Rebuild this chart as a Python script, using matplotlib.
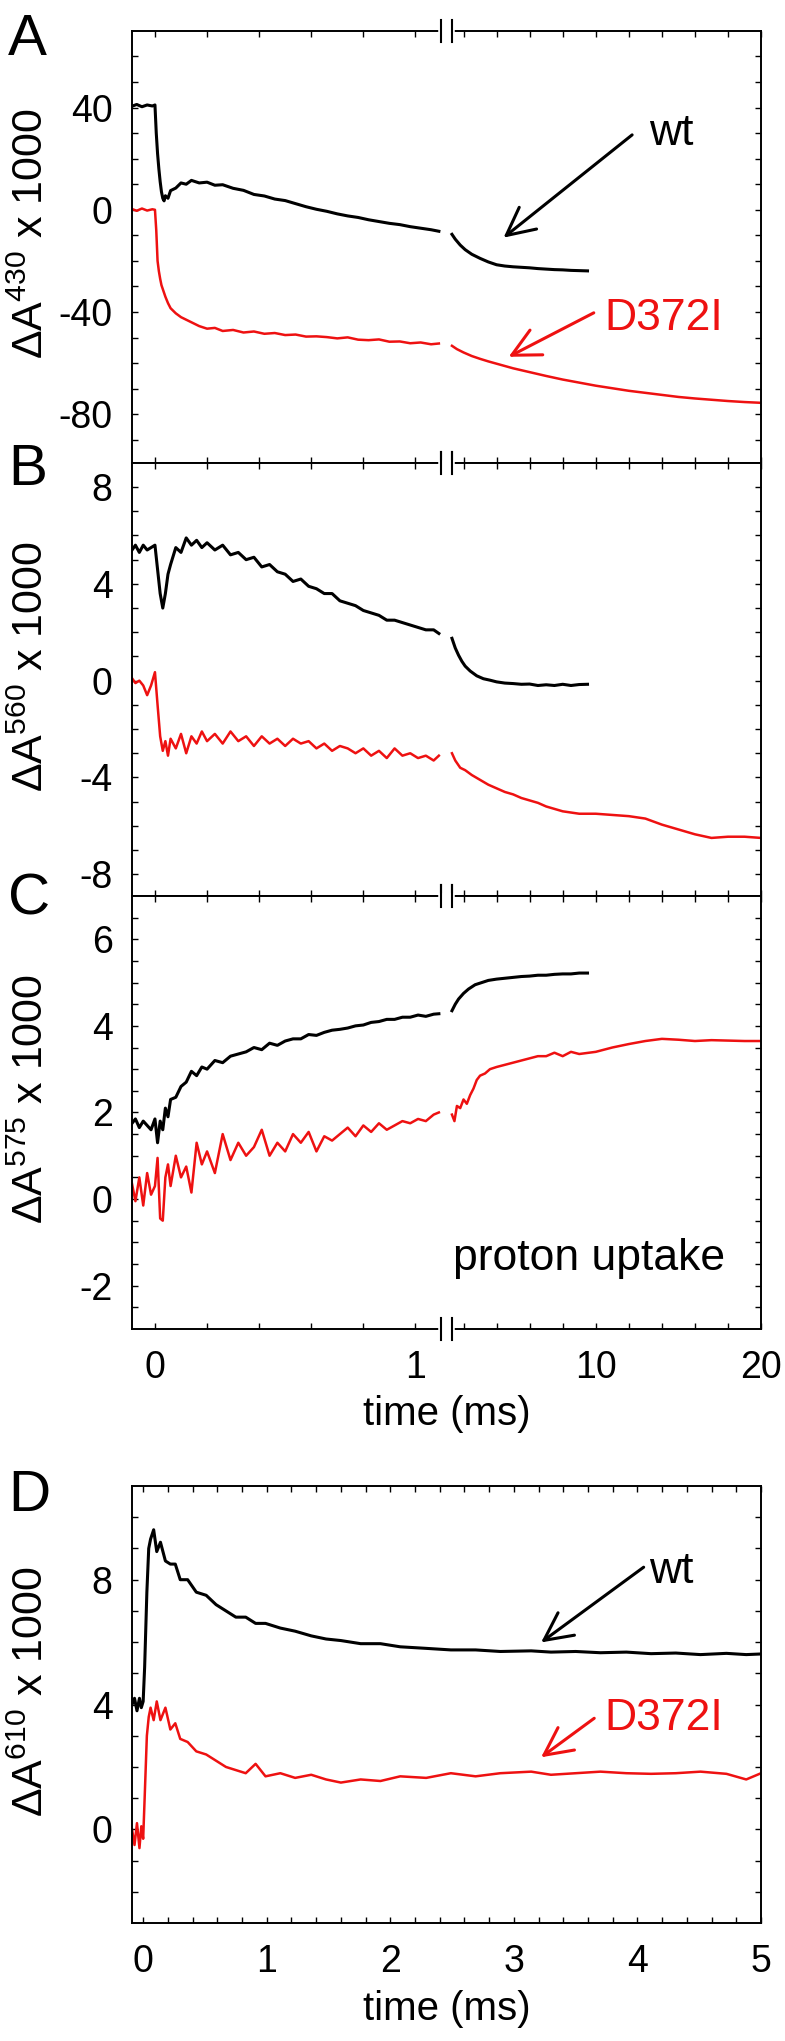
import numpy as np
import matplotlib
matplotlib.use('Agg')
import matplotlib.pyplot as plt
import matplotlib.transforms as mtransforms
from matplotlib.ticker import FixedLocator, NullFormatter, FixedFormatter

plt.rcParams['font.family'] = ['Liberation Sans', 'DejaVu Sans']
plt.rcParams['mathtext.fontset'] = 'custom'
plt.rcParams['mathtext.rm'] = 'Liberation Sans'
plt.rcParams['axes.unicode_minus'] = False

RED = '#ee1111'

# ---- panel A (430 nm) ----
a_t1 = [-0.088, -0.07, -0.05, -0.03, -0.01, 0.0, 0.005, 0.01, 0.015, 0.02, 0.025, 0.03,
        0.035, 0.04, 0.05, 0.06, 0.08, 0.10, 0.12, 0.14, 0.17, 0.20, 0.23, 0.26, 0.30,
        0.34, 0.38, 0.42, 0.46, 0.50, 0.54, 0.58, 0.62, 0.66, 0.70, 0.74, 0.78, 0.82,
        0.86, 0.90, 0.94, 0.98, 1.02, 1.06, 1.09]
a_wt1 = [40.5, 41.2, 40.3, 41.0, 40.6, 41.0, 30, 22, 16, 11, 7, 4.5, 3.5, 5.5, 4.5, 7.5,
         8.5, 10.5, 10.0, 11.5, 10.5, 10.8, 9.6, 9.8, 8.4, 7.6, 6.0, 5.4, 4.2, 3.6, 2.4,
         1.2, 0.2, -0.6, -1.6, -2.4, -3.0, -3.9, -4.6, -5.3, -5.8, -6.6, -7.2, -7.8, -8.4]
a_mut1 = [0.3, -0.4, 0.5, -0.3, 0.2, 0.0, -8, -20, -24, -27, -29.5, -31, -32.5, -34,
          -36.5, -38.5, -40.5, -42.0, -43.0, -44.0, -45.5, -46.5, -46.2, -47.4, -47.0,
          -48.0, -47.6, -48.5, -48.2, -49.0, -48.8, -49.6, -49.5, -49.8, -50.3, -49.9,
          -50.8, -51.0, -50.7, -51.6, -51.5, -52.2, -51.9, -52.6, -52.3]
a_t2_wt = [1.3, 1.5, 1.8, 2.1, 2.5, 3.0, 3.5, 4.0, 4.5, 5.0, 5.5, 6.0, 6.5, 7.0, 7.5,
           8.0, 8.5, 9.0, 9.5]
a_wt2 = [-9.6, -11.5, -13.8, -15.6, -17.4, -19.0, -20.4, -21.5, -22.0, -22.3, -22.5,
         -22.7, -23.0, -23.2, -23.4, -23.5, -23.7, -23.8, -23.9]
a_t2_mut = [1.3, 1.6, 2.0, 2.5, 3.0, 3.5, 4.0, 5.0, 6.0, 7.0, 8.0, 9.0, 10.0, 11.0,
            12.0, 13.0, 14.0, 15.0, 16.0, 17.0, 18.0, 19.0, 20.0]
a_mut2 = [-53.2, -54.5, -55.8, -57.2, -58.3, -59.3, -60.2, -62.0, -63.5, -65.0, -66.4,
          -67.6, -68.8, -69.8, -70.8, -71.6, -72.4, -73.2, -73.8, -74.3, -74.8, -75.2,
          -75.5]

# ---- panels B and C share the early time grid ----
bc_t1 = [-0.088, -0.075, -0.06, -0.045, -0.03, -0.015, 0.0, 0.01, 0.02, 0.03, 0.04,
         0.05, 0.06, 0.08, 0.10, 0.12, 0.14, 0.16, 0.18, 0.20, 0.23, 0.26, 0.29, 0.32,
         0.35, 0.38, 0.41, 0.44, 0.47, 0.50, 0.53, 0.56, 0.59, 0.62, 0.65, 0.68, 0.71,
         0.74, 0.77, 0.80, 0.83, 0.86, 0.89, 0.92, 0.95, 0.98, 1.01, 1.04, 1.07, 1.09]

# panel B (560 nm)
b_wt1 = [5.4, 5.6, 5.3, 5.6, 5.4, 5.5, 5.6, 4.6, 3.6, 3.0, 3.6, 4.4, 4.8, 5.5, 5.3,
         5.9, 5.6, 5.8, 5.5, 5.7, 5.4, 5.6, 5.2, 5.3, 5.0, 5.1, 4.7, 4.8, 4.5, 4.4, 4.1,
         4.2, 3.9, 3.8, 3.6, 3.6, 3.3, 3.2, 3.1, 2.9, 2.8, 2.7, 2.5, 2.5, 2.4, 2.3, 2.2,
         2.1, 2.1, 1.95]
b_mut1 = [0.1, -0.1, 0.0, -0.2, -0.6, -0.2, 0.35, -1.0, -2.3, -2.9, -2.5, -3.1, -2.4,
          -2.8, -2.2, -3.0, -2.3, -2.6, -2.1, -2.5, -2.2, -2.6, -2.1, -2.5, -2.3, -2.7,
          -2.3, -2.6, -2.4, -2.7, -2.4, -2.6, -2.5, -2.8, -2.6, -2.9, -2.7, -2.8, -3.0,
          -2.8, -3.1, -2.9, -3.2, -2.8, -3.1, -3.0, -3.2, -3.1, -3.3, -3.1]
b_t2_wt = [1.3, 1.5, 1.7, 1.9, 2.1, 2.4, 2.8, 3.2, 3.6, 4.0, 4.5, 5.0, 5.5, 6.0, 6.5,
           7.0, 7.5, 8.0, 8.5, 9.0, 9.5]
b_wt2 = [1.75, 1.35, 1.05, 0.8, 0.6, 0.4, 0.2, 0.08, 0.02, -0.05, -0.1, -0.12, -0.15,
         -0.14, -0.2, -0.17, -0.2, -0.15, -0.2, -0.16, -0.15]
b_t2_mut = [1.3, 1.5, 1.8, 2.1, 2.5, 3.0, 3.5, 4.0, 4.5, 5.0, 5.5, 6.0, 6.5, 7.0, 7.5,
            8.0, 9.0, 10.0, 11.0, 12.0, 13.0, 14.0, 15.0, 16.0, 17.0, 18.0, 19.0, 20.0]
b_mut2 = [-3.0, -3.3, -3.6, -3.7, -3.9, -4.1, -4.3, -4.45, -4.6, -4.7, -4.85, -4.95,
          -5.05, -5.2, -5.3, -5.4, -5.5, -5.5, -5.55, -5.6, -5.7, -5.95, -6.15, -6.35,
          -6.5, -6.45, -6.45, -6.5]

# panel C (575 nm)
c_wt1 = [1.75, 1.85, 1.65, 1.8, 1.7, 1.6, 1.85, 1.3, 1.8, 1.6, 2.1, 1.9, 2.3, 2.35,
         2.6, 2.7, 2.95, 2.85, 3.05, 3.0, 3.2, 3.15, 3.3, 3.35, 3.4, 3.5, 3.45, 3.6, 3.55,
         3.65, 3.7, 3.7, 3.8, 3.78, 3.85, 3.9, 3.92, 3.95, 4.0, 4.02, 4.08, 4.1, 4.15,
         4.15, 4.2, 4.2, 4.25, 4.22, 4.27, 4.28]
c_mut1 = [0.35, -0.05, 0.5, -0.15, 0.6, 0.1, 0.3, 0.95, -0.45, -0.5, 0.5, 0.8, 0.3,
          1.0, 0.5, 0.75, 0.15, 1.3, 0.8, 1.1, 0.6, 1.5, 0.9, 1.3, 1.0, 1.2, 1.6, 1.0,
          1.3, 1.1, 1.5, 1.3, 1.55, 1.1, 1.45, 1.35, 1.5, 1.65, 1.45, 1.7, 1.55, 1.75,
          1.6, 1.7, 1.8, 1.75, 1.85, 1.8, 1.95, 2.0]
c_t2_wt = [1.3, 1.5, 1.7, 2.0, 2.3, 2.7, 3.1, 3.5, 4.0, 4.5, 5.0, 5.5, 6.0, 6.5, 7.0,
           7.5, 8.0, 8.5, 9.0, 9.5]
c_wt2 = [4.35, 4.5, 4.62, 4.75, 4.85, 4.95, 5.0, 5.05, 5.08, 5.1, 5.12, 5.14, 5.15,
         5.17, 5.17, 5.19, 5.2, 5.2, 5.22, 5.22]
c_t2_mut = [1.3, 1.45, 1.6, 1.8, 2.0, 2.2, 2.4, 2.6, 2.8, 3.0, 3.3, 3.6, 4.0, 4.5, 5.0,
            5.5, 6.0, 6.5, 7.0, 7.5, 8.0, 8.5, 9.0, 10.0, 11.0, 12.0, 13.0, 14.0, 15.0,
            16.0, 17.0, 18.0, 19.0, 20.0]
c_mut2 = [1.95, 1.8, 2.15, 2.1, 2.3, 2.2, 2.4, 2.55, 2.75, 2.85, 2.9, 3.0, 3.05, 3.1,
          3.15, 3.2, 3.25, 3.3, 3.3, 3.38, 3.3, 3.4, 3.35, 3.4, 3.5, 3.58, 3.65, 3.7,
          3.68, 3.65, 3.67, 3.66, 3.65, 3.65]

# ---- panel D (610 nm), linear time ----
d_t = [-0.09, -0.07, -0.05, -0.03, -0.015, 0.0, 0.012, 0.03, 0.045, 0.06, 0.085, 0.11,
       0.14, 0.18, 0.22, 0.26, 0.30, 0.36, 0.43, 0.51, 0.59, 0.67, 0.75, 0.83, 0.91,
       0.99, 1.11, 1.23, 1.36, 1.48, 1.6, 1.76, 1.92, 2.08, 2.29, 2.49, 2.69, 2.89,
       3.14, 3.3, 3.5, 3.7, 3.91, 4.11, 4.31, 4.51, 4.72, 4.88, 5.0]
d_wt = [4.0, 4.2, 3.8, 4.2, 3.9, 4.1, 5.2, 7.6, 9.0, 9.3, 9.6, 8.9, 9.2, 8.6, 8.5,
        8.5, 8.0, 8.0, 7.6, 7.5, 7.2, 7.0, 6.8, 6.8, 6.6, 6.6, 6.45, 6.35, 6.2, 6.1,
        6.05, 5.95, 5.95, 5.85, 5.8, 5.75, 5.75, 5.7, 5.72, 5.68, 5.7, 5.66, 5.68,
        5.63, 5.65, 5.6, 5.64, 5.6, 5.62]
d_mut = [0.0, -0.5, 0.2, -0.6, 0.1, -0.3, 1.0, 3.0, 3.6, 3.9, 3.5, 4.1, 3.5, 3.9, 3.2,
         3.4, 2.9, 2.8, 2.5, 2.4, 2.2, 2.0, 1.9, 1.8, 2.1, 1.7, 1.8, 1.65, 1.75, 1.6,
         1.5, 1.6, 1.55, 1.7, 1.65, 1.8, 1.7, 1.8, 1.85, 1.75, 1.8, 1.85, 1.8, 1.78,
         1.8, 1.85, 1.78, 1.6, 1.8]


def fwd(t):
    # broken time axis: linear 0..1.1 ms, then compressed 1..20 ms
    t = np.asarray(t, dtype=float)
    return np.where(t <= 1.1, t, 1.1212 + 0.06346 * (t - 1.0))


def inv(u):
    u = np.asarray(u, dtype=float)
    return np.where(u <= 1.1, u,
                    np.where(u < 1.1276, 1.1, 1.0 + (u - 1.1212) / 0.06346))


def style(ax):
    for s in ax.spines.values():
        s.set_linewidth(1.4)
    ax.tick_params(which='both', direction='in', top=True, right=True,
                   length=4.3, width=1.0, labelsize=27)
    ax.tick_params(axis='x', pad=15)
    ax.tick_params(axis='y', pad=14)


def broken_axis(ax, show_labels):
    ax.set_xscale('function', functions=(fwd, inv))
    ax.set_xlim(-0.088, 20)
    ax.xaxis.set_major_locator(FixedLocator([0, 1, 10, 20]))
    ax.xaxis.set_minor_locator(FixedLocator([0.2, 0.4, 0.6, 0.8, 2, 4, 6, 8,
                                             12, 14, 16, 18]))
    ax.xaxis.set_minor_formatter(NullFormatter())
    if show_labels:
        ax.xaxis.set_major_formatter(FixedFormatter(['0', '1', '10', '20']))
    else:
        ax.xaxis.set_major_formatter(NullFormatter())
    trans = mtransforms.blended_transform_factory(ax.transData, ax.transAxes)
    for y in (0, 1):
        ax.plot([1.1, 1.33], [y, y], transform=trans, color='white', lw=4,
                clip_on=False, zorder=5)
        for xb in (1.1, 1.33):
            ax.plot([xb, xb], [y - 0.025, y + 0.025], transform=trans,
                    color='black', lw=1.5, clip_on=False, zorder=6)


def ylab(ax, wl):
    ax.text(-0.16, 0.53, 'ΔA$^{\\mathrm{' + wl + '}}$ x 1000', transform=ax.transAxes,
            rotation=90, ha='center', va='center', fontsize=31)


ARROW = '->,head_length=0.4,head_width=0.2'

fig = plt.figure(figsize=(7.85, 20.41), dpi=100)
L, W = 0.1682, 0.8013
axA = fig.add_axes([L, 0.7732, W, 0.2117])
axB = fig.add_axes([L, 0.5610, W, 0.2122])
axC = fig.add_axes([L, 0.3489, W, 0.2121])
axD = fig.add_axes([L, 0.0578, W, 0.2141])

# A
axA.plot(a_t1, a_wt1, color='black', lw=2.2)
axA.plot(a_t2_wt, a_wt2, color='black', lw=2.2)
axA.plot(a_t1, a_mut1, color=RED, lw=1.8)
axA.plot(a_t2_mut, a_mut2, color=RED, lw=1.8)
axA.set_ylim(-99, 70)
axA.yaxis.set_major_locator(FixedLocator([-80, -40, 0, 40]))
axA.yaxis.set_minor_locator(FixedLocator([-90, -70, -60, -50, -30, -20, -10, 10, 20, 30, 50, 60]))
broken_axis(axA, False)
style(axA)
ylab(axA, '430')
axA.annotate('', xy=(4.42, -10.9), xytext=(12.2, 29.3),
             arrowprops=dict(arrowstyle=ARROW, color='black', lw=2.2,
                             mutation_scale=50, shrinkA=0, shrinkB=0))
axA.text(13.2, 25.4, 'wt', fontsize=32, ha='left', va='baseline')
axA.annotate('', xy=(4.73, -57.5), xytext=(9.88, -40.3),
             arrowprops=dict(arrowstyle=ARROW, color=RED, lw=2.2,
                             mutation_scale=50, shrinkA=0, shrinkB=0))
axA.text(10.5, -47, 'D372I', fontsize=32, ha='left', va='baseline', color=RED)

# B
axB.plot(bc_t1, b_wt1, color='black', lw=2.2)
axB.plot(b_t2_wt, b_wt2, color='black', lw=2.2)
axB.plot(bc_t1, b_mut1, color=RED, lw=1.8)
axB.plot(b_t2_mut, b_mut2, color=RED, lw=1.8)
axB.set_ylim(-8.9, 9.0)
axB.yaxis.set_major_locator(FixedLocator([-8, -4, 0, 4, 8]))
axB.yaxis.set_minor_locator(FixedLocator([v for v in range(-8, 9) if v % 4 != 0]))
broken_axis(axB, False)
style(axB)
ylab(axB, '560')

# C
axC.plot(bc_t1, c_wt1, color='black', lw=2.2)
axC.plot(c_t2_wt, c_wt2, color='black', lw=2.2)
axC.plot(bc_t1, c_mut1, color=RED, lw=1.8)
axC.plot(c_t2_mut, c_mut2, color=RED, lw=1.8)
axC.set_ylim(-3, 7)
axC.yaxis.set_major_locator(FixedLocator([-2, 0, 2, 4, 6]))
axC.yaxis.set_minor_locator(FixedLocator([-2.5, -1.5, -1, -0.5, 0.5, 1, 1.5, 2.5, 3,
                                          3.5, 4.5, 5, 5.5, 6.5]))
broken_axis(axC, True)
style(axC)
ylab(axC, '575')
axC.set_xlabel('time (ms)', fontsize=29, labelpad=7)
axC.text(0.943, 0.136, 'proton uptake', transform=axC.transAxes, fontsize=32,
         ha='right', va='baseline')

# D
axD.plot(d_t, d_wt, color='black', lw=2.2)
axD.plot(d_t, d_mut, color=RED, lw=1.8)
axD.set_xlim(-0.09, 5)
axD.set_ylim(-3, 11)
axD.xaxis.set_major_locator(FixedLocator([0, 1, 2, 3, 4, 5]))
axD.xaxis.set_minor_locator(FixedLocator([i / 5 for i in range(25) if i % 5 != 0]))
axD.yaxis.set_major_locator(FixedLocator([0, 4, 8]))
axD.yaxis.set_minor_locator(FixedLocator([-2, -1, 1, 2, 3, 5, 6, 7, 9, 10]))
style(axD)
ylab(axD, '610')
axD.set_xlabel('time (ms)', fontsize=29, labelpad=7)
axD.annotate('', xy=(3.22, 5.99), xytext=(4.05, 8.4),
             arrowprops=dict(arrowstyle=ARROW, color='black', lw=2.2,
                             mutation_scale=50, shrinkA=0, shrinkB=0))
axD.text(4.09, 7.9, 'wt', fontsize=32, ha='left', va='baseline')
axD.annotate('', xy=(3.22, 2.31), xytext=(3.65, 3.56),
             arrowprops=dict(arrowstyle=ARROW, color=RED, lw=2.2,
                             mutation_scale=50, shrinkA=0, shrinkB=0))
axD.text(3.73, 3.18, 'D372I', fontsize=32, ha='left', va='baseline', color=RED)

# panel letters
for lab, yb in (('A', 0.9730), ('B', 0.7624), ('C', 0.5517), ('D', 0.2597)):
    fig.text(0.0102, yb, lab, fontsize=42, ha='left', va='baseline')

fig.savefig('out.png', dpi=100)
